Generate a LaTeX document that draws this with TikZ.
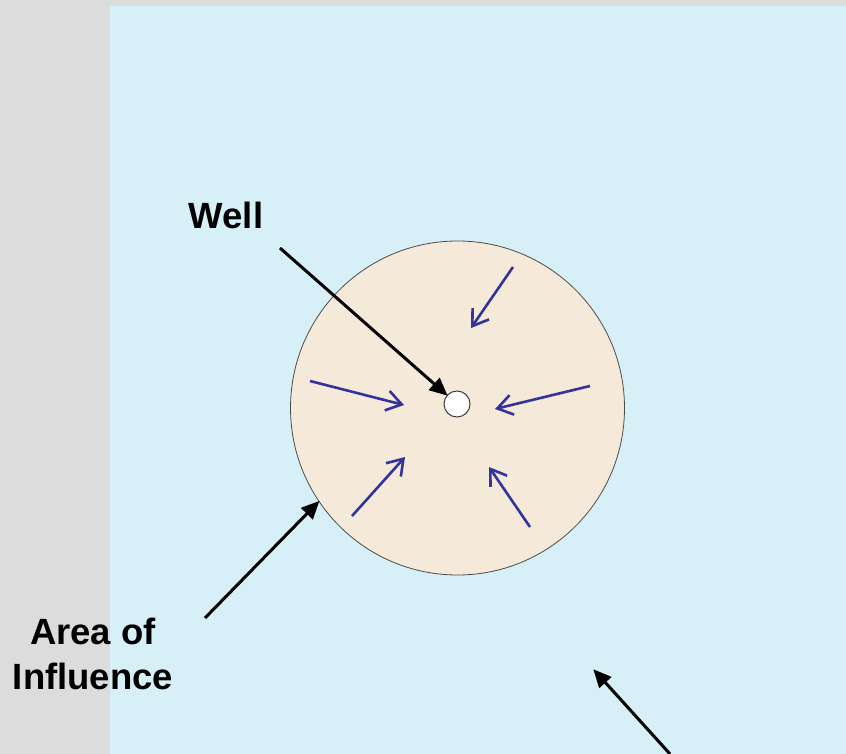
\documentclass[tikz,border=0pt]{standalone}
\usepackage{fontspec}
\setmainfont{Liberation Sans}
\usetikzlibrary{arrows.meta}
\definecolor{bggray}{HTML}{DCDCDC}
\definecolor{water}{HTML}{D7EFF7}
\definecolor{peach}{HTML}{F5E9D9}
\definecolor{flowblue}{HTML}{333399}
\tikzset{
  lbl/.style={font=\fontsize{36.5}{45}\selectfont\bfseries, align=center, inner sep=0pt},
  pointer/.style={draw=black, line width=3pt, -{Triangle[length=18pt,width=16pt]}, shorten >=-1pt},
  flow/.style={draw=flowblue, line width=2.6pt, -{Straight Barb[length=15pt,width=20pt]}},
}
\begin{document}
\begin{tikzpicture}[x=1pt,y=-1pt]
  \useasboundingbox (0,0) rectangle (846,754);
  \fill[bggray] (0,0) rectangle (846,754);
  \fill[water] (110,6) rectangle (846,754);
  \node[circle, draw=black!70, line width=0.8pt, fill=peach, minimum size=334pt, inner sep=0pt] (area) at (457.5,408) {};
  \node[circle, draw=black!75, line width=1pt, fill=white, minimum size=26pt, inner sep=0pt] (w) at (457,404) {};
  \node[lbl, anchor=base] (welllbl) at (226,229) {Well};
  \node[lbl, anchor=base] (arealbl) at (93,689) {Area of\\Influence};
  \coordinate (ws) at (280,248);
  \coordinate (as) at (205,618);
  \coordinate (bs) at (670,754);
  \coordinate (be) at (594,670);
  \draw[pointer] (ws) -- (w);
  \draw[pointer] (as) -- (area.214);
  \draw[pointer] (bs) -- (be);
  \coordinate (f1s) at (513,267); \coordinate (f1e) at (471,328);
  \coordinate (f2s) at (310,381); \coordinate (f2e) at (404,405);
  \coordinate (f3s) at (590,386); \coordinate (f3e) at (495,409);
  \coordinate (f4s) at (352,516); \coordinate (f4e) at (405,457);
  \coordinate (f5s) at (530,527); \coordinate (f5e) at (489,467);
  \draw[flow] (f1s) -- (f1e);
  \draw[flow] (f2s) -- (f2e);
  \draw[flow] (f3s) -- (f3e);
  \draw[flow] (f4s) -- (f4e);
  \draw[flow] (f5s) -- (f5e);
\end{tikzpicture}
\end{document}
